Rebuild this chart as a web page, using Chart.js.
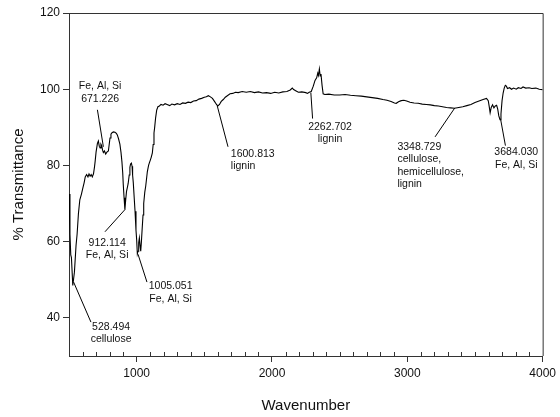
<!DOCTYPE html>
<html><head><meta charset="utf-8">
<script src="https://cdn.jsdelivr.net/npm/chart.js@4/dist/chart.umd.min.js"></script>
<style>html,body{margin:0;padding:0;background:#fff}#wrap{width:560px;height:417px}</style>
</head><body><div id="wrap"><canvas id="c" width="560" height="417"></canvas></div>
<script>
const wavenumber = [
500,507,513,518,528,540,552,560,570,580,592,603,612,620,630,640,648,656,664,672,681,688,693,700,710,717,724,730,736,742,748,754,762,771,780,791,797,803,810,818,828,840,850,857,866,876,884,891,897,901,907,913,919,925,931,937,945,950,955,961,966,970,975,981,988,995,
1000,1005,1010,1015,1020,1025,1030,1035,1040,1047,1052,1060,1067,1073,1079,1088,1095,1101,1108,1116,1122,1128,1133,1140,1148,1157,1168,1180,1195,1210,1225,1244,1260,1280,1300,1320,1340,1360,1380,1400,1420,1440,1460,1480,1500,1515,1530,1545,1560,1575,1590,1600,1612,1625,1640,1655,1670,1690,1710,1730,1750,1780,1810,1840,1870,1900,1930,1960,1990,
2020,2050,2080,2110,2135,2150,2160,2175,2195,2220,2250,2262,2275,2290,2305,2318,2330,2338,2343,2350,2356,2362,2370,2378,2390,2420,2460,2500,2540,2580,2620,2660,2700,2740,2780,2820,2850,2880,2905,2918,2935,2955,2975,2995,
3020,3050,3080,3110,3140,3170,3200,3230,3260,3290,3320,3349,3380,3410,3440,3470,3500,3530,3560,3585,3598,3605,3612,3620,3630,3640,3650,3660,3668,3676,3685,3692,3700,3708,3716,3724,3732,3740,3756,3770,3785,3805,3820,3840,3855,3875,3900,3920,3950,3975,4000
];
const transmittance = [
72.5,62,56.5,55.8,48.5,52,59,62,67.5,71,72.5,74.2,75.5,77,77.6,77.0,77.8,77.2,77.6,77.0,77.8,79.5,81,83.5,85.8,86.4,85.0,84.6,85.6,85.2,84.0,83.4,83.8,83.0,83.5,83.8,85.5,87.2,88.2,88.6,88.8,88.7,88.4,88.0,87.0,85.6,83.5,81,78,75,71.5,68.4,71,73.2,74.2,75.2,77.5,79.5,80.4,80.6,79.8,77.5,75.5,72,68,63,
60.5,56.8,57.5,59.8,61,59,57.5,60,63,67,70,73,74.6,76.5,78.4,80,80.8,81.4,82.2,83.3,85.5,88.5,90,92.5,94.5,95.4,95.6,96.0,95.8,96.2,96.0,95.7,96.1,95.9,96.2,96.0,96.4,96.3,96.6,96.5,96.9,97.0,97.4,97.6,97.9,98.0,98.3,98.0,97.6,96.8,96.0,95.6,96.0,96.8,97.3,97.9,98.3,98.8,98.9,99.2,99.1,99.4,99.2,99.4,99.1,99.3,99.0,99.1,98.9,
99.2,99.0,99.3,99.4,99.8,100.3,99.9,99.6,99.2,99.3,99.1,98.9,99.2,99.4,100.8,102.3,103.0,104.2,103.6,105.3,103.5,104,101,98.8,98.6,98.7,98.5,98.5,98.6,98.4,98.3,98.2,98.0,97.8,97.6,97.3,97.1,96.8,96.4,96.3,96.7,97.0,97.1,96.9,
96.6,96.4,96.3,96.1,96.0,95.9,95.7,95.6,95.4,95.2,95.1,95.0,95.2,95.4,95.7,96.0,96.5,96.9,97.3,97.6,97.0,95.5,93.8,95.2,95.9,95.1,95.6,95.8,94.8,93.0,92.0,93.5,97.0,99.0,100.3,101.0,100.8,100.2,100.4,100.0,100.3,100.0,100.4,100.2,100.6,100.3,100.4,100.2,100.3,100.0,99.9
];
const xTickValues = [1000, 2000, 3000, 4000];
const xMinorTickValues = [600,700,800,900,1100,1200,1300,1400,1500,1600,1700,1800,1900,2100,2200,2300,2400,2500,2600,2700,2800,2900,3100,3200,3300,3400,3500,3600,3700,3800,3900];
const yTickValues = [40, 60, 80, 100, 120];
const xTitle = 'Wavenumber';
const yTitle = '% Transmittance';

// labels: text lines, text anchor (wavenumber, transmittance) of first line, alignment, leader line from/to
const annotations = [
  {lines: ['Fe, Al, Si', '671.226'], at: [730, 100.8], align: 'center', from: [710, 94.6], to: [754, 84.9]},
  {lines: ['912.114', 'Fe, Al, Si'], at: [782, 59.7], align: 'center', from: [766, 62.6], to: [913, 68.4]},
  {lines: ['1005.051', 'Fe, Al, Si'], at: [1251, 48.3], align: 'center', from: [1010, 56.7], to: [1076, 49.4]},
  {lines: ['528.494', 'cellulose'], at: [811, 37.7], align: 'center', from: [534, 49.4], to: [662, 38.9]},
  {lines: ['1600.813', 'lignin'], at: [1696, 83.1], align: 'left', from: [1595, 95.7], to: [1675, 84.9]},
  {lines: ['2262.702', 'lignin'], at: [2429, 90.1], align: 'center', from: [2287, 99.1], to: [2300, 92.3]},
  {lines: ['3348.729', 'cellulose,', 'hemicellulose,', 'lignin'], at: [2927, 84.9], align: 'left', from: [3351, 95.1], to: [3205, 87.5]},
  {lines: ['3684.030', 'Fe, Al, Si'], at: [3805, 83.4], align: 'center', from: [3690, 92.0], to: [3725, 85.2]}
];

const FONT = "'Liberation Sans', Arial, sans-serif";

const framePlugin = {
  id: 'frame',
  afterDraw(chart) {
    const {ctx, chartArea: a, scales} = chart;
    ctx.save();
    ctx.strokeStyle = '#333';
    ctx.lineWidth = 1;
    ctx.beginPath();
    ctx.moveTo(a.left, a.top + 0.5); ctx.lineTo(a.right + 0.5, a.top + 0.5); ctx.lineTo(a.right + 0.5, a.bottom);
    ctx.stroke();
    ctx.beginPath();
    xMinorTickValues.forEach(v => {
      const x = Math.round(scales.x.getPixelForValue(v)) + 0.5;
      ctx.moveTo(x, a.bottom); ctx.lineTo(x, a.bottom - 4);
    });
    ctx.stroke();
    ctx.restore();
  }
};

const annotationPlugin = {
  id: 'ftirLabels',
  afterDatasetsDraw(chart) {
    const {ctx, scales: {x, y}} = chart;
    ctx.save();
    ctx.strokeStyle = '#000';
    ctx.lineWidth = 1;
    ctx.fillStyle = '#111';
    ctx.font = '10.5px ' + FONT;
    ctx.textBaseline = 'middle';
    annotations.forEach(an => {
      ctx.beginPath();
      ctx.moveTo(x.getPixelForValue(an.from[0]), y.getPixelForValue(an.from[1]));
      ctx.lineTo(x.getPixelForValue(an.to[0]), y.getPixelForValue(an.to[1]));
      ctx.stroke();
      ctx.textAlign = an.align;
      const tx = x.getPixelForValue(an.at[0]);
      const ty = y.getPixelForValue(an.at[1]);
      an.lines.forEach((t, i) => ctx.fillText(t, tx, ty + i * 12.5));
    });
    ctx.restore();
  }
};

new Chart(document.getElementById('c'), {
  type: 'scatter',
  data: {
    datasets: [{
      data: wavenumber.map((w, i) => ({x: w, y: transmittance[i]})),
      showLine: true,
      borderColor: '#000',
      borderWidth: 1.1,
      pointRadius: 0,
      tension: 0
    }]
  },
  options: {
    responsive: false,
    devicePixelRatio: 1,
    animation: false,
    layout: {padding: {top: 13, right: 13, left: 0, bottom: 0}},
    plugins: {legend: {display: false}, tooltip: {enabled: false}},
    scales: {
      x: {
        type: 'linear', min: 500, max: 4000,
        afterBuildTicks: s => { s.ticks = xTickValues.map(v => ({value: v})); },
        afterFit: s => { s.height = 61; },
        ticks: {color: '#111', font: {family: FONT, size: 12}, padding: 4, maxRotation: 0, autoSkip: false, callback: v => String(v)},
        grid: {drawOnChartArea: false, drawTicks: true, tickLength: 6, color: '#333'},
        border: {color: '#333', width: 1},
        title: {display: true, text: xTitle, color: '#111', font: {family: FONT, size: 15}, padding: {top: 0, bottom: 2}}
      },
      y: {
        type: 'linear', min: 30, max: 120,
        afterBuildTicks: s => { s.ticks = yTickValues.map(v => ({value: v})); },
        afterFit: s => { s.width = 69; },
        ticks: {color: '#111', font: {family: FONT, size: 12}, padding: 3, callback: v => String(v)},
        grid: {drawOnChartArea: false, drawTicks: true, tickLength: 6, color: '#333'},
        border: {color: '#333', width: 1},
        title: {display: true, text: yTitle, color: '#111', font: {family: FONT, size: 15}, padding: {top: 10, bottom: 0}}
      }
    }
  },
  plugins: [framePlugin, annotationPlugin]
});
</script>
</body></html>
